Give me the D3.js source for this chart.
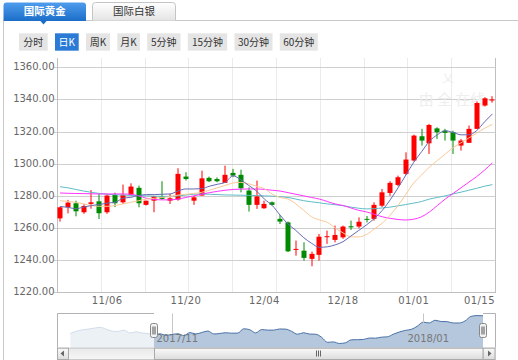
<!DOCTYPE html>
<html><head><meta charset="utf-8">
<script src="https://cdn.jsdelivr.net/npm/d3@7"></script>
<style>
body{margin:0;background:#fff;}
svg{display:block;font-family:"DejaVu Sans",Verdana,sans-serif;}
</style></head><body>
<svg id="c" width="518" height="360"></svg>
<script>
// ---------- data ----------
const dates = ["2017-10-27","2017-10-30","2017-10-31","2017-11-01","2017-11-02","2017-11-03","2017-11-06","2017-11-07","2017-11-08","2017-11-09","2017-11-10","2017-11-13","2017-11-14","2017-11-15","2017-11-16","2017-11-17","2017-11-20","2017-11-21","2017-11-22","2017-11-23","2017-11-24","2017-11-27","2017-11-28","2017-11-29","2017-11-30","2017-12-01","2017-12-04","2017-12-05","2017-12-06","2017-12-07","2017-12-08","2017-12-11","2017-12-12","2017-12-13","2017-12-14","2017-12-15","2017-12-18","2017-12-19","2017-12-20","2017-12-21","2017-12-22","2017-12-26","2017-12-27","2017-12-28","2017-12-29","2018-01-02","2018-01-03","2018-01-04","2018-01-05","2018-01-08","2018-01-09","2018-01-10","2018-01-11","2018-01-12","2018-01-15","2018-01-16"];
const open  = [1266.0,1272.9,1275.4,1269.8,1275.0,1276.6,1269.8,1280.6,1276.0,1280.6,1285.0,1274.4,1277.0,1279.7,1277.0,1277.7,1292.0,1277.0,1280.2,1291.2,1290.5,1288.1,1294.3,1293.1,1283.3,1274.4,1272.3,1276.0,1265.7,1263.5,1246.4,1245.9,1240.8,1243.3,1254.4,1252.6,1254.2,1261.1,1260.9,1265.7,1265.7,1273.9,1281.8,1286.8,1293.7,1302.0,1317.1,1312.7,1322.0,1320.6,1319.6,1311.3,1313.0,1321.7,1336.2,1339.3];
const high  = [1273.3,1277.5,1277.0,1275.0,1283.6,1281.2,1281.2,1282.0,1287.0,1287.8,1286.4,1277.0,1280.0,1289.1,1281.2,1297.2,1294.7,1280.0,1295.7,1292.0,1291.5,1298.8,1296.8,1296.3,1285.3,1289.5,1277.0,1276.5,1268.1,1264.0,1252.2,1251.1,1245.3,1256.3,1258.4,1261.5,1261.5,1264.6,1266.6,1267.5,1276.0,1284.3,1289.1,1292.6,1307.1,1318.1,1321.7,1324.8,1322.7,1321.7,1320.6,1315.4,1323.8,1338.8,1341.4,1342.0];
const low   = [1264.0,1269.1,1267.3,1268.8,1272.0,1265.6,1268.8,1273.0,1275.0,1280.2,1272.9,1274.0,1269.8,1277.5,1275.0,1277.0,1289.5,1274.4,1280.2,1288.6,1288.5,1288.0,1291.6,1282.2,1270.2,1271.9,1271.9,1274.0,1262.5,1245.0,1242.8,1239.7,1236.2,1239.7,1250.1,1251.1,1253.3,1258.8,1259.8,1263.5,1264.6,1273.0,1280.0,1286.0,1293.0,1301.4,1311.3,1306.1,1315.4,1314.4,1306.1,1308.2,1313.0,1321.7,1335.6,1338.0];
const close = [1272.9,1275.8,1270.4,1273.7,1276.0,1269.2,1280.2,1275.4,1280.6,1285.8,1275.4,1277.0,1279.7,1278.1,1278.5,1293.7,1290.5,1279.1,1290.9,1289.1,1289.1,1293.1,1292.6,1284.7,1274.4,1279.7,1275.0,1274.4,1264.0,1245.5,1247.0,1241.4,1243.9,1254.6,1254.9,1255.7,1260.9,1260.4,1263.9,1265.1,1274.4,1282.2,1288.1,1291.6,1302.6,1317.5,1314.4,1324.1,1319.6,1319.2,1314.4,1314.4,1321.7,1337.8,1340.7,1340.0];
const ma5  = [1273.4,1272.9,1272.0,1273.0,1274.0,1274.6,1275.5,1276.0,1278.5,1279.1,1280.2,1280.8,1280.8,1281.0,1281.2,1283.0,1284.3,1284.3,1284.5,1286.0,1287.2,1288.4,1292.5,1290.0,1286.5,1283.0,1278.0,1274.0,1268.0,1262.5,1258.5,1254.0,1250.5,1248.0,1248.3,1249.5,1251.5,1255.0,1258.5,1262.0,1266.0,1271.0,1277.5,1285.0,1293.0,1300.9,1307.5,1314.0,1318.0,1320.5,1319.5,1318.0,1318.0,1320.6,1326.0,1331.0];
const ma10 = [1277.0,1276.5,1276.0,1275.0,1274.0,1273.5,1273.5,1274.0,1275.0,1276.0,1277.0,1278.0,1278.5,1279.0,1279.5,1280.5,1281.0,1281.5,1282.2,1283.5,1285.0,1286.5,1288.0,1288.4,1287.5,1286.0,1284.5,1281.0,1279.0,1278.0,1275.0,1271.0,1267.0,1265.0,1263.5,1260.0,1257.0,1254.5,1254.5,1256.0,1259.5,1263.0,1268.0,1274.0,1281.0,1288.0,1293.0,1298.0,1302.0,1306.0,1310.0,1313.0,1316.0,1319.0,1322.0,1324.5];
const ma20 = [1281.8,1281.6,1281.5,1281.4,1281.3,1281.2,1281.2,1281.2,1281.2,1281.0,1280.0,1278.5,1277.8,1277.5,1277.5,1278.0,1279.0,1280.0,1281.0,1282.0,1282.8,1283.5,1284.0,1284.2,1284.3,1284.3,1284.0,1283.5,1283.0,1282.0,1281.0,1280.0,1279.0,1278.0,1276.5,1275.0,1274.0,1272.5,1271.0,1270.0,1268.5,1267.0,1266.0,1265.3,1265.0,1265.5,1267.0,1270.0,1274.0,1278.0,1281.5,1285.0,1288.5,1292.0,1296.0,1300.5];
const ma30 = [1285.7,1285.0,1284.0,1283.0,1282.2,1281.5,1281.0,1280.7,1280.5,1280.3,1280.2,1280.0,1279.8,1279.7,1279.7,1280.0,1280.5,1281.0,1281.2,1281.0,1280.8,1280.6,1280.5,1280.4,1280.3,1280.2,1280.0,1279.8,1279.5,1279.0,1278.0,1277.0,1276.3,1275.7,1275.0,1274.5,1273.9,1273.0,1272.3,1271.9,1272.0,1272.5,1273.0,1273.8,1274.6,1275.5,1276.5,1278.0,1279.0,1280.0,1281.2,1282.3,1283.5,1284.7,1286.0,1287.0];
const navPre = [1277.0,1285.0,1290.0,1292.6,1296.0,1298.8,1292.6,1285.4,1284.0,1289.0,1278.5,1283.0,1278.5,1277.0];
const yTicks = [1220,1240,1260,1280,1300,1320,1340,1360];
const xTickDates = ["2017-11-06","2017-11-20","2017-12-04","2017-12-18","2018-01-02","2018-01-15"];
const xTickLabels = ["11/06","11/20","12/04","12/18","01/01","01/15"];
const navTickDates = ["2017-11-01","2018-01-02"];
const navTickLabels = ["2017/11","2018/01"];
const tabs = ["国际黄金","国际白银"];
const periods = ["分时","日K","周K","月K","5分钟","15分钟","30分钟","60分钟"];
const periodWidths = [28.7,23.7,24,22.6,33.3,39.4,38,38];

// ---------- layout ----------
const svg = d3.select("#c");
const P = {l:57, r:495, t:58, b:292.3};
const x = d3.scaleBand().domain(dates).range([56.1, 496.3]).padding(0);
const cx = d => x(d) + x.bandwidth()/2;
const y = d3.scaleLinear().domain([1220,1360]).range([292.3, 67.3]);
const gridX = d3.scaleLinear().domain([0,10]).range([P.l, P.r]);

const defs = svg.append("defs");
function grad(id, c1, c2){
  const g = defs.append("linearGradient").attr("id",id).attr("x1",0).attr("y1",0).attr("x2",0).attr("y2",1);
  g.append("stop").attr("offset",0).attr("stop-color",c1);
  g.append("stop").attr("offset",1).attr("stop-color",c2);
}
grad("gTabA","#4f9ded","#1b6dc8");
grad("gTabB","#ffffff","#e4e4e4");
grad("gThumb","#fafafa","#dcdcdc");
grad("gTrack","#e8e8e8","#f6f6f6");
defs.append("clipPath").attr("id","plotClip").append("rect").attr("x",P.l).attr("y",P.t).attr("width",P.r-P.l).attr("height",P.b-P.t);

// frame
svg.append("path").attr("d","M3.5,360 V20.5 H518").attr("fill","none").attr("stroke","#c9c9c9");

// tabs
const tabG = svg.append("g").style("font-family","'Noto Sans CJK SC',sans-serif");
function tabPath(x0,x1,y0,y1,r){return `M${x0},${y1} V${y0+r} Q${x0},${y0} ${x0+r},${y0} H${x1-r} Q${x1},${y0} ${x1},${y0+r} V${y1}`;}
tabG.append("path").attr("d",tabPath(3.5,86,2.5,21,3)+" Z").attr("fill","url(#gTabA)");
tabG.append("path").attr("d","M40,20.5 L47,20.5 L43.5,24.5 Z").attr("fill","#1b6dc8");
tabG.append("path").attr("d",tabPath(92.5,175.5,2.5,20.5,3)).attr("fill","url(#gTabB)").attr("stroke","#c4c4c4");
tabG.selectAll("text.tab").data(tabs).join("text").attr("class","tab")
  .attr("x",(d,i)=> i===0?44.7:134).attr("y",15.3).attr("text-anchor","middle")
  .attr("font-size",10.5).attr("font-weight",(d,i)=>i===0?"bold":"normal")
  .attr("fill",(d,i)=>i===0?"#fff":"#333").text(d=>d);

// period buttons
const btnG = svg.append("g").style("font-family","'Noto Sans CJK SC',sans-serif");
let bx = 19;
periods.forEach((p,i)=>{
  const w = periodWidths[i];
  btnG.append("rect").attr("x",bx).attr("y",33.3).attr("width",w).attr("height",17.4)
    .attr("fill", i===1 ? "#2b7bd6" : "#e5e5e5");
  btnG.append("text").attr("x",bx+w/2).attr("y",45.6).attr("text-anchor","middle")
    .attr("font-size",10).attr("fill", i===1?"#fff":"#333").text(p);
  bx += w + 7.3;
});

// grid
const gg = svg.append("g");
gg.selectAll("line.vg").data(d3.range(1,10)).join("line").attr("class","vg")
  .attr("x1",d=>Math.round(gridX(d))+0.5).attr("x2",d=>Math.round(gridX(d))+0.5)
  .attr("y1",P.t).attr("y2",P.b).attr("stroke","#ebebeb");
gg.selectAll("line.hg").data(yTicks).join("line").attr("class","hg")
  .attr("x1",P.l-3).attr("x2",P.r).attr("y1",d=>Math.round(y(d))+0.5).attr("y2",d=>Math.round(y(d))+0.5)
  .attr("stroke","#cfcfcf");
gg.append("line").attr("x1",P.l+0.5).attr("x2",P.l+0.5).attr("y1",P.t).attr("y2",P.b).attr("stroke","#c0c0c0");
gg.append("line").attr("x1",P.r+0.5).attr("x2",P.r+0.5).attr("y1",P.t).attr("y2",P.b).attr("stroke","#c0c0c0");
gg.append("line").attr("x1",P.l).attr("x2",P.r+1).attr("y1",Math.round(P.b)+0.5).attr("y2",Math.round(P.b)+0.5).attr("stroke","#c0c0c0");

// y labels
svg.append("g").selectAll("text").data(yTicks).join("text")
  .attr("x",54.5).attr("y",d=>y(d)+3).attr("text-anchor","end").attr("font-size",10).attr("fill","#666")
  .text(d=>d.toFixed(2));
// x labels
svg.append("g").selectAll("text").data(xTickDates).join("text")
  .attr("x",(d,i)=>Math.min(cx(d), P.r-15.5)).attr("y",304).attr("text-anchor","middle")
  .attr("font-size",10).attr("fill","#666").attr("letter-spacing",0.4).text((d,i)=>xTickLabels[i]);

// watermark
const wm = svg.append("g").style("font-family","'Noto Sans CJK SC',sans-serif").attr("fill","#eeeeee");
wm.append("text").attr("x",448).attr("y",83).attr("text-anchor","middle").attr("font-size",12).text("乂");
wm.append("text").attr("x",452).attr("y",105).attr("text-anchor","middle").attr("font-size",15).text("由 全 在线");

// candles + MAs
const plot = svg.append("g").attr("clip-path","url(#plotClip)");
const idx = d3.range(dates.length);
const bw = 5;
const cg = plot.append("g");
idx.forEach(i=>{
  const up = close[i] >= open[i];
  const col = up ? "#ff0000" : "#008a00";
  const xc = Math.round(cx(dates[i]));
  cg.append("line").attr("x1",xc).attr("x2",xc).attr("y1",y(high[i])).attr("y2",y(low[i])).attr("stroke",col).attr("stroke-width",1);
  const top = y(Math.max(open[i],close[i])), bot = y(Math.min(open[i],close[i]));
  cg.append("rect").attr("x",xc-bw/2).attr("y",top).attr("width",bw).attr("height",Math.max(1,bot-top)).attr("fill",col);
});
const maDefs = [[ma30,"#5fbcc6"],[ma20,"#ff33ff"],[ma10,"#f9c797"],[ma5,"#6569b3"]];
maDefs.forEach(([arr,col])=>{
  const line = d3.line().x((d,i)=>cx(dates[i])).y(d=>y(d)).curve(d3.curveMonotoneX);
  plot.append("path").attr("d",line(arr)).attr("fill","none").attr("stroke",col).attr("stroke-width",1);
});

// ---------- navigator ----------
const N = {l:57, r:495.5, t:313.5, b:347.7};
const navData = navPre.concat(close);
const navIdx = d3.range(-navPre.length, close.length);
const nx = d3.scaleLinear().domain([0, close.length-1]).range([154, 483]);
const ny = d3.scaleLinear().domain(d3.extent(navData)).range([343.5, 315.6]);
const ng = svg.append("g");
const area = d3.area().x((d,i)=>nx(navIdx[i])).y0(N.b).y1(d=>ny(d)).curve(d3.curveMonotoneX);
const nline = d3.line().x((d,i)=>nx(navIdx[i])).y(d=>ny(d)).curve(d3.curveMonotoneX);
ng.append("path").attr("d",area(navData)).attr("fill","#4572a7").attr("fill-opacity",0.4);
ng.append("path").attr("d",nline(navData)).attr("fill","none").attr("stroke","#4a72a8").attr("stroke-width",1);
navTickDates.forEach((d,i)=>{
  const xi = Math.round(nx(dates.indexOf(d)))+0.5;
  ng.append("line").attr("x1",xi).attr("x2",xi).attr("y1",N.t).attr("y2",N.b).attr("stroke","#c6c6c6");
  ng.append("text").attr("x",xi-16).attr("y",341.5).attr("font-size",10).attr("fill","#777").text(navTickLabels[i]);
});
ng.append("rect").attr("x",N.l).attr("y",N.t).attr("width",154-N.l).attr("height",N.b-N.t).attr("fill","rgba(255,255,255,0.75)");
ng.append("rect").attr("x",483).attr("y",N.t).attr("width",N.r-483).attr("height",N.b-N.t).attr("fill","rgba(255,255,255,0.75)");
ng.append("path").attr("d",`M${N.l+0.5},${N.b} V${N.t} H154 M483,${N.t} H${N.r} V${N.b}`).attr("fill","none").attr("stroke","#b2b1b6");
const sb = {t:347.7, b:359};
ng.append("rect").attr("x",N.l+0.5).attr("y",sb.t+0.5).attr("width",N.r-N.l-1).attr("height",sb.b-sb.t).attr("fill","url(#gTrack)").attr("stroke","#c8c8c8");
ng.append("rect").attr("x",N.l+0.5).attr("y",sb.t+0.5).attr("width",11).attr("height",sb.b-sb.t).attr("fill","url(#gThumb)").attr("stroke","#aaa");
ng.append("rect").attr("x",N.r-12.5).attr("y",sb.t+0.5).attr("width",12).attr("height",sb.b-sb.t).attr("fill","url(#gThumb)").attr("stroke","#aaa");
ng.append("path").attr("d",`M64,350.5 L60.5,353.5 L64,356.5 Z`).attr("fill","#666");
ng.append("path").attr("d",`M488,350.5 L491.5,353.5 L488,356.5 Z`).attr("fill","#666");
ng.append("rect").attr("x",154.5).attr("y",sb.t+0.5).attr("width",483-154.5).attr("height",sb.b-sb.t).attr("fill","url(#gThumb)").attr("stroke","#aaa");
[-2,0,2].forEach(o=>ng.append("line").attr("x1",318.5+o).attr("x2",318.5+o).attr("y1",350.5).attr("y2",356.5).attr("stroke","#666"));
[154,483].forEach(hx=>{
  ng.append("rect").attr("x",hx-3.5).attr("y",323.5).attr("width",7).attr("height",14).attr("rx",2).attr("fill","#f2f2f2").attr("stroke","#888");
  ng.append("line").attr("x1",hx-1).attr("x2",hx-1).attr("y1",326.5).attr("y2",334.5).attr("stroke","#555");
  ng.append("line").attr("x1",hx+1).attr("x2",hx+1).attr("y1",326.5).attr("y2",334.5).attr("stroke","#555");
});
</script></body></html>
